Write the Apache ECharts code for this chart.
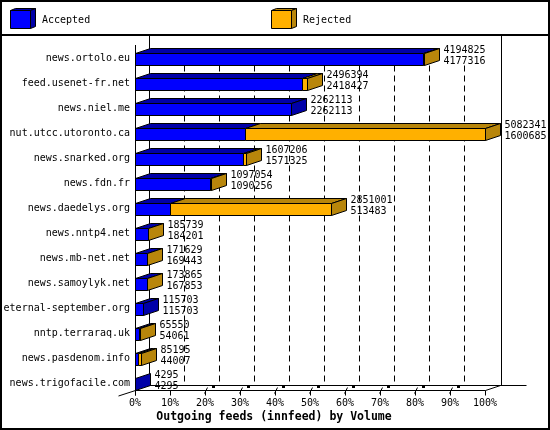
<!DOCTYPE html>
<html>
<head>
<meta charset="utf-8">
<script src="https://cdn.jsdelivr.net/npm/echarts@6/dist/echarts.min.js"></script>
<style>html,body{margin:0;padding:0;background:#fff}#c{width:550px;height:430px}</style>
</head>
<body>
<div id="c"></div>
<script>
const categories = ['news.ortolo.eu','feed.usenet-fr.net','news.niel.me','nut.utcc.utoronto.ca','news.snarked.org','news.fdn.fr','news.daedelys.org','news.nntp4.net','news.mb-net.net','news.samoylyk.net','eternal-september.org','nntp.terraraq.uk','news.pasdenom.info','news.trigofacile.com'];
const offered  = [4194825, 2496394, 2262113, 5082341, 1607206, 1097054, 2851001, 185739, 171629, 173865, 115703, 65550, 85195, 4295];
const accepted = [4177316, 2418427, 2262113, 1600685, 1571325, 1090256, 513483, 184201, 169443, 167853, 115703, 54061, 44007, 4295];
const xTickLabels = ['0%','10%','20%','30%','40%','50%','60%','70%','80%','90%','100%'];
const seriesNames = ['Accepted','Rejected'];
const axisTitle = 'Outgoing feeds (innfeed) by Volume';

const FONT = '"DejaVu Sans Mono", monospace';
const BLUE = '#0000FF', BLUE_D = '#0000A8', ORANGE = '#FFB000', ORANGE_D = '#B8860B';
const DX = 15, DY = 5;

const maxOff = Math.max(...offered);
const barData = categories.map((c, i) => [i, offered[i] / maxOff * 100, accepted[i] / maxOff * 100, offered[i], accepted[i]]);

const chart = echarts.init(document.getElementById('c'), null, {renderer: 'canvas'});

function px(v) { return Math.round(v) + 0.5; }

function renderFrame(params, api) {
  const n = categories.length;
  const cTop = api.coord([0, 0])[1];
  const cBot = api.coord([0, n - 1])[1];
  const x0 = px(api.coord([0, 0])[0]);
  const x100 = px(api.coord([100, 0])[0]);
  const yFront = cBot + 7;
  const yBack = yFront - DY;
  const ch = [];
  const L = (x1, y1, x2, y2, extra) => ch.push({type: 'line', shape: {x1, y1, x2, y2}, style: Object.assign({stroke: '#000', lineWidth: 1}, extra || {}), silent: true});
  // back walls
  L(x0 + 14, 35, x0 + 14, yBack);
  L(x100 + 16, 35, x100 + 16, yBack);
  // dashed gridlines on back wall
  for (let i = 1; i < 10; i++) {
    const gx = px(api.coord([i * 10, 0])[0]) + 14;
    L(gx, cTop + 7, gx, yBack, {lineDash: [6, 4]});
  }
  // back floor line
  L(x0 + 14, yBack, x100 + 41, yBack);
  // front floor axis
  L(x0, yFront, x100, yFront);
  L(x100, yFront, x100 + 15, yBack);
  L(x0, yFront, x0 - 17, yFront + 5.5);
  // front vertical axis
  L(x0, cTop - 13.5, x0, yFront + 5);
  // ticks
  for (let i = 0; i <= 10; i++) {
    const tx = px(api.coord([i * 10, 0])[0]);
    L(tx, yFront, tx, yFront + 5);
    if (i >= 2 && i <= 9) {
      L(tx - 1, yFront + 3, tx + 2, yFront - 3);
      ch.push({type: 'rect', shape: {x: tx + 6.5, y: yBack - 0.5, width: 3, height: 3}, style: {fill: '#000'}, silent: true});
    }
  }
  return {type: 'group', children: ch};
}

function renderBar(params, api) {
  const k = api.value(0);
  const off = api.value(1), acc = api.value(2);
  const c = api.coord([0, k])[1];
  const x0 = px(api.coord([0, k])[0]);
  const xA = px(api.coord([acc, k])[0]);
  const xO = px(api.coord([off, k])[0]);
  const yT = c - 5, yB = c + 7;
  const ch = [];
  const poly = (pts, fill) => ch.push({type: 'polygon', shape: {points: pts}, style: {fill, stroke: '#000', lineWidth: 1}});
  if (xA > x0) poly([[x0, yT], [x0 + DX, yT - DY], [xA + DX, yT - DY], [xA, yT]], BLUE_D);
  if (xO > xA) poly([[xA, yT], [xA + DX, yT - DY], [xO + DX, yT - DY], [xO, yT]], ORANGE_D);
  if (xA > x0) poly([[x0, yT], [xA, yT], [xA, yB], [x0, yB]], BLUE);
  if (xO > xA) poly([[xA, yT], [xO, yT], [xO, yB], [xA, yB]], ORANGE);
  const rej = api.value(3) - api.value(4);
  poly([[xO, yT], [xO + DX, yT - DY], [xO + DX, yB - DY], [xO, yB]], rej > 0 ? ORANGE_D : BLUE_D);
  ch.push({type: 'text', style: {text: String(api.value(3)) + '\n' + String(api.value(4)), x: xO + DX + 4, y: c - 3, textVerticalAlign: 'middle', verticalAlign: 'middle', font: '10px ' + FONT, lineHeight: 11, fill: '#000'}});
  return {type: 'group', children: ch};
}

function cube(x, y, front, dark) {
  return [
    {type: 'polygon', shape: {points: [[x, y], [x + 5, y - 2], [x + 25, y - 2], [x + 20, y]]}, style: {fill: dark, stroke: '#000', lineWidth: 1}},
    {type: 'polygon', shape: {points: [[x + 20, y], [x + 25, y - 2], [x + 25, y + 16], [x + 20, y + 18]]}, style: {fill: dark, stroke: '#000', lineWidth: 1}},
    {type: 'rect', shape: {x: x, y: y, width: 20, height: 18}, style: {fill: front, stroke: '#000', lineWidth: 1}}
  ];
}

chart.setOption({
  animation: false,
  backgroundColor: '#fff',
  grid: {left: 135, width: 350, top: 46, height: 350, containLabel: false},
  xAxis: {
    type: 'value', min: 0, max: 100, interval: 10,
    axisLine: {show: false}, axisTick: {show: false}, splitLine: {show: false},
    axisLabel: {margin: 1, color: '#000', fontFamily: FONT, fontSize: 10, lineHeight: 12,
      formatter: v => xTickLabels[Math.round(v / 10)]}
  },
  yAxis: {
    type: 'category', data: categories, inverse: true,
    axisLine: {show: false}, axisTick: {show: false}, splitLine: {show: false},
    axisLabel: {margin: 5, color: '#000', fontFamily: FONT, fontSize: 10}
  },
  series: [
    {type: 'custom', name: 'frame', data: [[0, 0]], renderItem: renderFrame, silent: true, z: 1},
    {type: 'custom', name: 'bars', data: barData, encode: {x: [1, 2], y: 0}, renderItem: renderBar, z: 2, silent: true}
  ],
  graphic: [
    {type: 'rect', shape: {x: 1, y: 1, width: 548, height: 428}, style: {fill: 'none', stroke: '#000', lineWidth: 2}, silent: true, z: 10},
    {type: 'line', shape: {x1: 0, y1: 35, x2: 550, y2: 35}, style: {stroke: '#000', lineWidth: 2}, silent: true},
    {type: 'group', children: cube(10.5, 10.5, BLUE, BLUE_D)},
    {type: 'text', style: {text: seriesNames[0], x: 42, y: 20, verticalAlign: 'middle', textVerticalAlign: 'middle', font: '10px ' + FONT, fill: '#000'}},
    {type: 'group', children: cube(271.5, 10.5, ORANGE, ORANGE_D)},
    {type: 'text', style: {text: seriesNames[1], x: 303, y: 20, verticalAlign: 'middle', textVerticalAlign: 'middle', font: '10px ' + FONT, fill: '#000'}},
    {type: 'text', style: {text: axisTitle, x: 274, y: 417, align: 'center', textAlign: 'center', verticalAlign: 'middle', textVerticalAlign: 'middle', font: 'bold 11.5px ' + FONT, fill: '#000'}}
  ]
});
</script>
</body>
</html>
